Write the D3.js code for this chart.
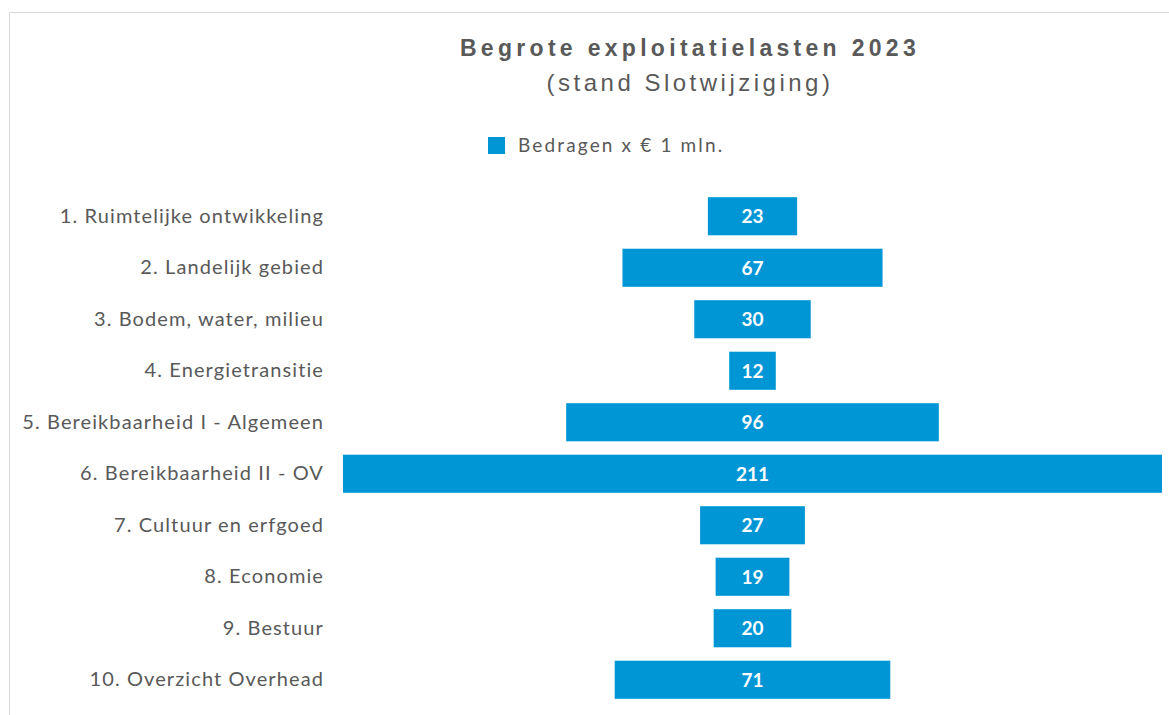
<!DOCTYPE html>
<html><head><meta charset="utf-8">
<script src="https://cdn.jsdelivr.net/npm/d3@7"></script>
<style>
html,body{margin:0;padding:0;background:#fff;}
svg{display:block;}
</style></head>
<body>
<svg id="chart" width="1169" height="715"></svg>
<script>
const categories = [
  "1. Ruimtelijke ontwikkeling",
  "2. Landelijk gebied",
  "3. Bodem, water, milieu",
  "4. Energietransitie",
  "5. Bereikbaarheid I - Algemeen",
  "6. Bereikbaarheid II - OV",
  "7. Cultuur en erfgoed",
  "8. Economie",
  "9. Bestuur",
  "10. Overzicht Overhead"
];
const values = [23, 67, 30, 12, 96, 211, 27, 19, 20, 71];
const seriesName = "Bedragen x € 1 mln.";
const titleText = "Begrote exploitatielasten 2023";
const subtitleText = "(stand Slotwijziging)";

const svg = d3.select("#chart");
const W = 1169, H = 715;
const color = "#0096D6";
const textColor = "#595959";

// frame
svg.append("line").attr("x1", 9.5).attr("x2", W).attr("y1", 12.5).attr("y2", 12.5)
  .attr("stroke", "#d9d9d9").attr("stroke-width", 1);
svg.append("line").attr("x1", 9.5).attr("x2", 9.5).attr("y1", 12.5).attr("y2", H)
  .attr("stroke", "#d9d9d9").attr("stroke-width", 1);

// title
svg.append("text").attr("x", 690).attr("y", 56).attr("text-anchor", "middle")
  .attr("font-family", "Liberation Sans, Arial, sans-serif").attr("font-weight", "bold")
  .attr("font-size", 23).attr("letter-spacing", 4.3).attr("fill", textColor).text(titleText);
svg.append("text").attr("x", 690).attr("y", 91).attr("text-anchor", "middle")
  .attr("font-family", "Liberation Sans, Arial, sans-serif")
  .attr("font-size", 24).attr("letter-spacing", 3.5).attr("fill", textColor).text(subtitleText);

// legend
const lg = svg.append("g");
lg.append("rect").attr("x", 488).attr("y", 137).attr("width", 17).attr("height", 17).attr("fill", color);
lg.append("text").attr("x", 518).attr("y", 152).attr("font-family", "Lato, sans-serif")
  .attr("font-size", 19).attr("letter-spacing", 2.15).attr("fill", textColor).text(seriesName);

// scales
const centerX = 752.5;
const w = d3.scaleLinear().domain([0, 211]).range([0, 819]);
const y = d3.scaleBand().domain(categories).range([190.5, 705.5]).paddingInner(0.26).paddingOuter(0.13);

// axis labels
const axis = d3.axisLeft(y).tickSize(0).tickPadding(0);
const ag = svg.append("g").attr("transform", "translate(324,0)").call(axis);
ag.select(".domain").remove();
ag.selectAll("text").attr("font-family", "Lato, sans-serif").attr("font-size", 20)
  .attr("letter-spacing", 1.1).attr("fill", textColor);

// bars
const rows = categories.map((c, i) => ({c, v: values[i]}));
svg.append("g").selectAll("rect").data(rows).join("rect")
  .attr("x", d => centerX - w(d.v) / 2)
  .attr("y", d => y(d.c))
  .attr("width", d => w(d.v))
  .attr("height", y.bandwidth())
  .attr("fill", color);

svg.append("g").selectAll("text").data(rows).join("text")
  .attr("x", centerX)
  .attr("y", d => y(d.c) + y.bandwidth() / 2)
  .attr("dy", "0.36em")
  .attr("text-anchor", "middle")
  .attr("font-family", "Lato, sans-serif").attr("font-weight", "bold")
  .attr("font-size", 19).attr("fill", "#fff")
  .text(d => d.v);
</script>
</body></html>
